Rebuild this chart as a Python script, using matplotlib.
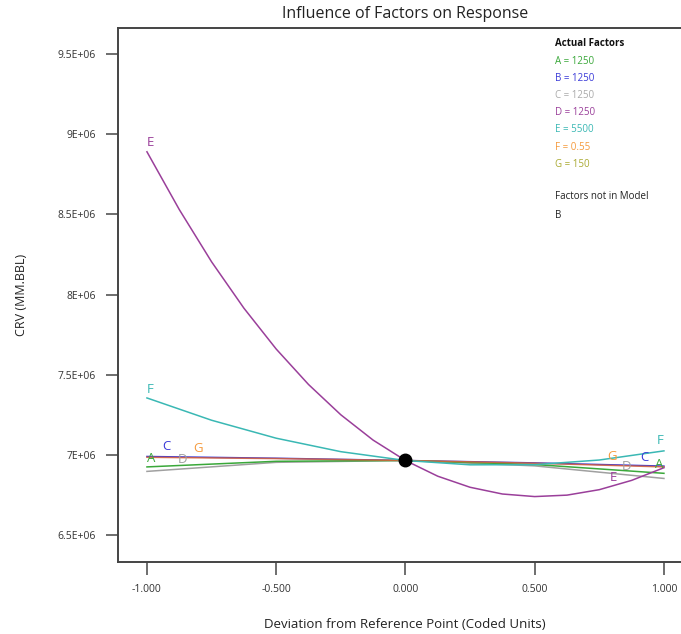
import matplotlib
matplotlib.use("Agg")
import matplotlib.pyplot as plt

plt.rcParams['font.family'] = ['Open Sans', 'DejaVu Sans']

# ---- data ----
x_fine = [-1, -0.875, -0.75, -0.625, -0.5, -0.375, -0.25, -0.125, 0,
          0.125, 0.25, 0.375, 0.5, 0.625, 0.75, 0.875, 1]
E_vals = [8.89e6, 8.53e6, 8.204e6, 7.915e6, 7.66e6, 7.439e6, 7.25e6, 7.092e6, 6.965e6,
          6.867e6, 6.798e6, 6.756e6, 6.74e6, 6.749e6, 6.783e6, 6.841e6, 6.92e6]

x_mid = [-1, -0.75, -0.5, -0.25, 0, 0.25, 0.5, 0.75, 1]
F_vals = [7.355e6, 7.216e6, 7.104e6, 7.02e6, 6.965e6, 6.938e6, 6.939e6, 6.968e6, 7.025e6]

x_coarse = [-1, -0.5, 0, 0.5, 1]
A_vals = [6.925e6, 6.96e6, 6.965e6, 6.94e6, 6.885e6]
C_vals = [6.99e6, 6.979e6, 6.965e6, 6.95e6, 6.93e6]
D_vals = [6.897e6, 6.9535e6, 6.965e6, 6.9315e6, 6.853e6]
G_vals = [6.985e6, 6.977e6, 6.965e6, 6.948e6, 6.925e6]

ref_x = [0]
ref_y = [6.965e6]

legend_title = "Actual Factors"
legend_items = ["A = 1250", "B = 1250", "C = 1250", "D = 1250", "E = 5500", "F = 0.55", "G = 150"]
not_in_model = ["B"]

y_ticks = [6.5e6, 7e6, 7.5e6, 8e6, 8.5e6, 9e6, 9.5e6]
y_tick_labels = ["6.5E+06", "7E+06", "7.5E+06", "8E+06", "8.5E+06", "9E+06", "9.5E+06"]
x_ticks = [-1, -0.5, 0, 0.5, 1]
x_tick_labels = ["-1.000", "-0.500", "0.000", "0.500", "1.000"]

# colours
c_green = "#3aa83a"
c_blue = "#3a3ad8"
c_gray = "#a0a0a0"
c_purple = "#9a3f9a"
c_teal = "#3ab8b4"
c_orange = "#f59a3c"
c_olive = "#aaaa33"
c_red = "#d9623a"

fig = plt.figure(figsize=(6.81, 6.34), dpi=100)
ax = fig.add_axes([118/681, 1-562/634, 1-118/681, (562-28)/634])

lw = 1.1
ax.plot(x_coarse, C_vals, color=c_blue, lw=lw)
ax.plot(x_coarse, D_vals, color=c_gray, lw=lw)
ax.plot(x_coarse, A_vals, color=c_green, lw=lw)
ax.plot(x_coarse, G_vals, color=c_red, lw=lw, alpha=0.85)
ax.plot(x_mid, F_vals, color=c_teal, lw=lw)
ax.plot(x_fine, E_vals, color=c_purple, lw=lw)
ax.plot(ref_x, ref_y, 'o', color='black', markersize=9, zorder=5)

# curve labels
lab_fs = 9.5
labels = [
    ("A", -0.985, 6.98e6, c_green), ("C", -0.923, 7.05e6, c_blue),
    ("D", -0.861, 6.97e6, c_gray), ("G", -0.803, 7.04e6, c_orange),
    ("E", -0.988, 8.95e6, c_purple), ("F", -0.988, 7.41e6, c_teal),
    ("G", 0.80, 6.99e6, c_orange), ("C", 0.926, 6.985e6, c_blue),
    ("D", 0.857, 6.93e6, c_gray), ("A", 0.98, 6.94e6, c_green),
    ("E", 0.806, 6.86e6, c_purple), ("F", 0.985, 7.09e6, c_teal),
]
for t, x, y, c in labels:
    ax.text(x, y, t, color=c, fontsize=lab_fs, ha='center', va='center')

ax.set_xlim(-1.112, 1.066)
ax.set_ylim(6.332e6, 9.662e6)
ax.set_xticks(x_ticks)
ax.set_xticklabels(x_tick_labels)
ax.set_yticks(y_ticks)
ax.set_yticklabels(y_tick_labels)
ax.tick_params(direction='out', length=9, width=1.2, color='#555555',
               labelsize=7.5, labelcolor='#333333', pad=7)
for s in ['left', 'bottom', 'top']:
    ax.spines[s].set_color('#444444')
    ax.spines[s].set_linewidth(1.4)
ax.spines['right'].set_visible(False)

fig.text(405/681, 1-625/634, "Deviation from Reference Point (Coded Units)", fontsize=9.5,
         ha='center', va='center', color='#222222')
fig.text(22/681, 1-295/634, "CRV (MM.BBL)", fontsize=9, rotation=90,
         ha='center', va='center', color='#222222')
fig.text(405/681, 1-14/634, "Influence of Factors on Response", fontsize=11.5,
         ha='center', va='center', color='#222222')

# legend block
lx = 555/681
fig.text(lx, 1-44/634, legend_title, fontsize=7, fontweight='bold', color='#111111', va='center')
leg_colors = [c_green, c_blue, "#aaaaaa", c_purple, c_teal, c_orange, c_olive]
for i, (t, c) in enumerate(zip(legend_items, leg_colors)):
    fig.text(lx, 1-(61 + i*17.2)/634, t, fontsize=7, color=c, va='center')
fig.text(lx, 1-196/634, "Factors not in Model", fontsize=7, color='#222222', va='center')
for i, t in enumerate(not_in_model):
    fig.text(lx, 1-(216 + i*17)/634, t, fontsize=7, color='#222222', va='center')

fig.savefig("out.png", dpi=100)
